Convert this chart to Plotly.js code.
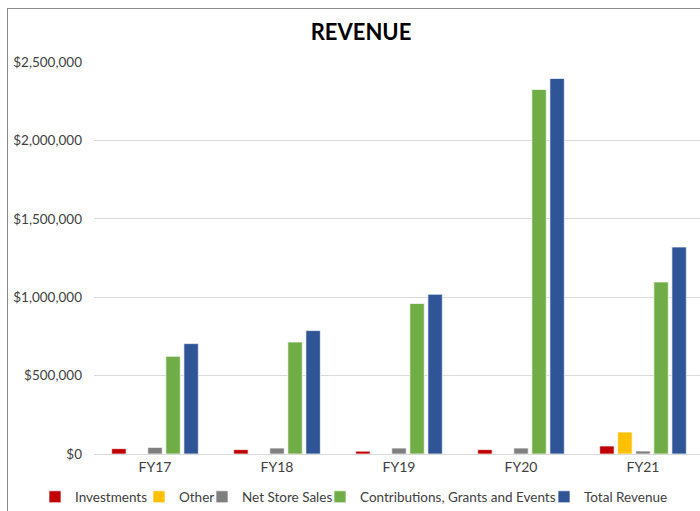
<!DOCTYPE html>
<html>
<head>
<meta charset="utf-8">
<script src="https://cdn.plot.ly/plotly-3.0.1.min.js"></script>
<style>
html,body{margin:0;padding:0;width:700px;height:511px;overflow:hidden;background:#fff;}
#frame{position:absolute;left:7px;top:8px;border-left:1px solid #8a8a8a;border-top:1px solid #8a8a8a;width:720px;height:520px;}
#chart{width:720px;height:520px;}
</style>
</head>
<body>
<div id="frame"><div id="chart"></div></div>
<script>
var categories = ["FY17", "FY18", "FY19", "FY20", "FY21"];
var seriesNames = ["Investments", "Other", "Net Store Sales", "Contributions, Grants and Events", "Total Revenue"];
var investments = [34000, 28000, 18000, 28000, 51000];
var other = [null, null, null, null, 140000];
var netStoreSales = [42000, 38000, 38000, 38000, 19000];
var contributions = [623000, 714000, 960000, 2325000, 1097000];
var totalRevenue = [704000, 787000, 1019000, 2395000, 1320000];
var yTicks = [0, 500000, 1000000, 1500000, 2000000, 2500000];
var yTickText = ["$0", "$500,000", "$1,000,000", "$1,500,000", "$2,000,000", "$2,500,000"];

var colors = ["#C00000", "#FFC000", "#7F7F7F", "#70AD47", "#2F5597"];
var values = [investments, other, netStoreSales, contributions, totalRevenue];
var legendIds = ["legend", "legend2", "legend3", "legend4", "legend5"];
// page x where each legend entry's text begins
var legendTextX = [73, 177, 240, 358, 582];

var traces = values.map(function(v, i){
  return {
    type: "bar",
    name: seriesNames[i],
    x: categories,
    y: v,
    legend: legendIds[i],
    marker: {color: colors[i], line: {color: "rgba(255,255,255,0.7)", width: 1}},
    hoverinfo: "none"
  };
});

var font = "Lato, 'Liberation Sans', Arial, sans-serif";
var layout = {
  width: 720, height: 520,
  margin: {l: 86, r: 24, t: 53, b: 75},
  paper_bgcolor: "#ffffff",
  plot_bgcolor: "#ffffff",
  barmode: "group",
  bargap: 0.26,
  bargroupgap: 0.2,
  showlegend: true,
  title: {
    text: "<b>REVENUE</b>",
    font: {family: font, size: 22, color: "#000000"},
    xref: "container", x: 353/720, xanchor: "center",
    yref: "container", y: 1 - 23/520, yanchor: "middle"
  },
  xaxis: {
    type: "category",
    showgrid: false,
    showline: true, linecolor: "#D9D9D9", linewidth: 1,
    ticks: "",
    tickmode: "array",
    tickvals: categories,
    ticktext: categories,
    tickfont: {family: font, size: 14, color: "#404040"},
    fixedrange: true
  },
  yaxis: {
    range: [0, 2500000],
    tickvals: yTicks,
    ticktext: yTickText,
    showgrid: true, gridcolor: "#D9D9D9", gridwidth: 1,
    zeroline: false,
    showline: false,
    ticks: "",
    ticklabelstandoff: 11,
    tickfont: {family: font, size: 13.5, color: "#404040"},
    fixedrange: true
  }
};

legendIds.forEach(function(id, i){
  layout[id] = {
    orientation: "h",
    bgcolor: "rgba(0,0,0,0)",
    xref: "container",
    x: (legendTextX[i] - 8 - 38) / 720, xanchor: "left",
    yref: "container",
    y: 1 - 488/520, yanchor: "middle",
    font: {family: font, size: 13.5, color: "#404040"},
    itemwidth: 30
  };
});

Plotly.newPlot("chart", traces, layout, {displayModeBar: false, staticPlot: true});
</script>
</body>
</html>
